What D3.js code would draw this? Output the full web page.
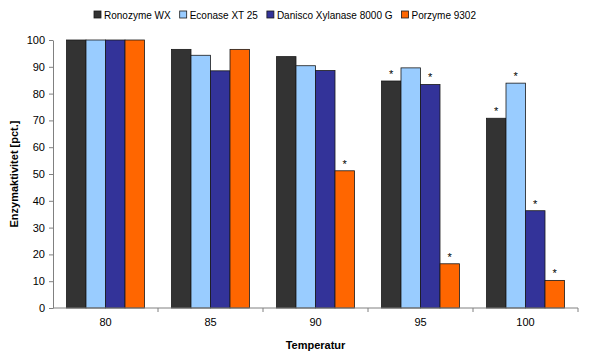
<!DOCTYPE html>
<html><head><meta charset="utf-8">
<script src="https://cdn.jsdelivr.net/npm/d3@7"></script>
<style>body{margin:0;background:#fff;font-family:"Liberation Sans",Arial,sans-serif;}</style>
</head><body><svg id="c" width="600" height="356"></svg>
<script>
const categories = ["80","85","90","95","100"];
const seriesNames = ["Ronozyme WX","Econase XT 25","Danisco Xylanase 8000 G","Porzyme 9302"];
const ronozyme = [100, 96.5, 93.8, 84.7, 70.8];
const econase  = [100, 94.3, 90.4, 89.6, 83.9];
const danisco  = [100, 88.5, 88.6, 83.4, 36.3];
const porzyme  = [100, 96.5, 51.2, 16.5, 10.3];
const stars = [[0,0,0,1,1],[0,0,0,0,1],[0,0,0,1,1],[0,0,1,1,1]];
const colors = ["#333333","#99ccff","#333399","#ff6600"];
const yTicks = [0,10,20,30,40,50,60,70,80,90,100];
const values = [ronozyme, econase, danisco, porzyme];

const svg = d3.select("#c");
const pLeft=53, pRight=578, pTop=40, pBottom=308;
const x0 = d3.scaleBand().domain(categories).range([pLeft,pRight]).paddingInner(0.257).paddingOuter(0.1285);
const x1 = d3.scaleBand().domain(d3.range(4)).range([0,x0.bandwidth()]);
const y = d3.scaleLinear().domain([0,100]).range([pBottom,pTop]);

// bars
categories.forEach((c,ci)=>{
  values.forEach((s,si)=>{
    svg.append("rect")
      .attr("x", x0(c)+x1(si)).attr("y", y(s[ci]))
      .attr("width", x1.bandwidth()).attr("height", y(0)-y(s[ci]))
      .attr("fill", colors[si]).attr("stroke","#1a1a1a").attr("stroke-width",0.8);
    if(stars[si][ci]){
      svg.append("text").attr("x", x0(c)+x1(si)+x1.bandwidth()/2).attr("y", y(s[ci])-3)
        .attr("text-anchor","middle").attr("font-size",11).attr("fill","#000").text("*");
    }
  });
});

// y axis
const yAxis = svg.append("g").attr("transform",`translate(${pLeft},0)`)
  .call(d3.axisLeft(y).tickValues(yTicks).tickSize(4).tickSizeOuter(0));
yAxis.select(".domain").attr("stroke","#808080");
yAxis.selectAll(".tick line").attr("stroke","#808080");
yAxis.selectAll("text").attr("font-size",11).attr("font-family","Liberation Sans, Arial").attr("fill","#000").attr("x",-8);

// x axis
const xAxis = svg.append("g").attr("transform",`translate(0,${pBottom})`)
  .call(d3.axisBottom(x0).tickSize(0).tickSizeOuter(0));
xAxis.select(".domain").attr("stroke","#808080").attr("d",`M${pLeft},0H${pRight}`);
xAxis.selectAll("text").attr("font-size",11).attr("font-family","Liberation Sans, Arial").attr("fill","#000").attr("dy","1.4em");
const bounds = categories.map((c,i)=> pLeft + (i+1)*x0.step());
svg.append("g").selectAll("line").data(bounds).join("line")
  .attr("x1",d=>d).attr("x2",d=>d).attr("y1",pBottom).attr("y2",pBottom+4).attr("stroke","#808080");

// axis titles
svg.append("text").attr("x",(pLeft+pRight)/2).attr("y",349).attr("text-anchor","middle")
  .attr("font-size",11).attr("font-weight","bold").text("Temperatur");
svg.append("text").attr("transform",`translate(18,${(pTop+pBottom)/2}) rotate(-90)`).attr("text-anchor","middle")
  .attr("font-size",11).attr("font-weight","bold").text("Enzymaktivitet [pct.]");

// legend laid out sequentially
let lx = 94;
seriesNames.forEach((n,i)=>{
  svg.append("rect").attr("x",lx).attr("y",11).attr("width",7).attr("height",7)
    .attr("fill",colors[i]).attr("stroke","#1a1a1a").attr("stroke-width",0.8);
  const t = svg.append("text").attr("x",lx+10).attr("y",18.5).attr("font-size",10).text(n);
  lx += 10 + t.node().getComputedTextLength() + 9;
});
</script></body></html>
